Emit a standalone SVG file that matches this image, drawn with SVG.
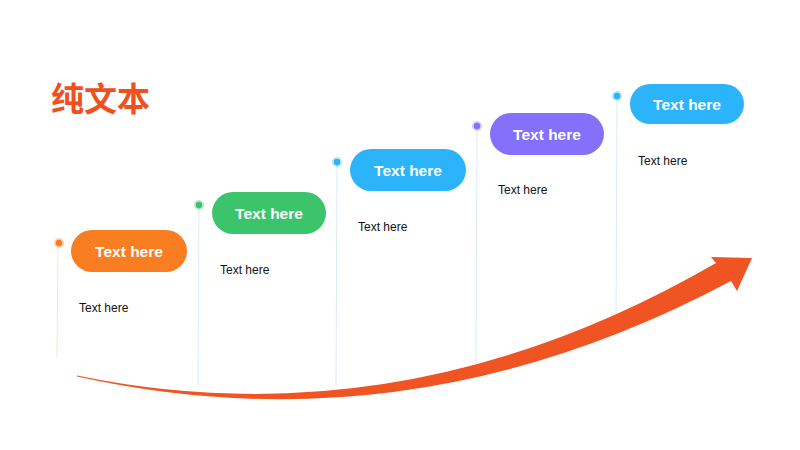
<svg xmlns="http://www.w3.org/2000/svg" width="800" height="450" viewBox="0 0 800 450">
<style>
.pill-t{font-family:"Liberation Sans",Arial,sans-serif;font-size:15.5px;font-weight:bold;fill:#fff;text-anchor:middle}
.sub{font-family:"Liberation Sans",Arial,sans-serif;font-size:12px;fill:#111}
.vl{stroke:#d8ebf7;stroke-width:1;fill:none}
</style>
<rect width="800" height="450" fill="#fff"/>
<text x="51" y="111" font-family="'Noto Sans CJK SC',sans-serif" font-size="33" font-weight="bold" fill="#F0501E">纯文本</text>
<g id="connectors">
<line class="vl" x1="58" y1="243" x2="57" y2="357" style="stroke:#fbe3d3"/>
<line class="vl" x1="199" y1="205" x2="198" y2="385"/>
<line class="vl" x1="337" y1="162" x2="336" y2="385"/>
<line class="vl" x1="477" y1="126" x2="476" y2="362"/>
<line class="vl" x1="617" y1="96" x2="616" y2="320"/>
<path id="arrow" d="M77,375.5 Q405,443 716,263 L711,257 L752,258 L737,291 L731,281 Q412,451 77,376.5 Z" fill="#F05423"/>
</g>
<g id="n1">
<circle cx="59" cy="243" r="5" fill="#F97E22" opacity="0.35"/><circle cx="59" cy="243" r="3.2" fill="#F97E22"/>
<rect x="71" y="230" width="116" height="42" rx="21" fill="#F97E22"/>
<text class="pill-t" x="129" y="257">Text here</text>
<text class="sub" x="79" y="312">Text here</text>
</g>
<g id="n2">
<circle cx="199" cy="205" r="5" fill="#3CC46C" opacity="0.35"/><circle cx="199" cy="205" r="3.2" fill="#3CC46C"/>
<rect x="212" y="192" width="114" height="42" rx="21" fill="#3CC46C"/>
<text class="pill-t" x="269" y="219">Text here</text>
<text class="sub" x="220" y="274">Text here</text>
</g>
<g id="n3">
<circle cx="337" cy="162" r="5" fill="#2CB4FA" opacity="0.35"/><circle cx="337" cy="162" r="3.2" fill="#2CB4FA"/>
<rect x="350" y="149" width="116" height="42" rx="21" fill="#2CB4FA"/>
<text class="pill-t" x="408" y="176">Text here</text>
<text class="sub" x="358" y="231">Text here</text>
</g>
<g id="n4">
<circle cx="477" cy="126" r="5" fill="#8470FA" opacity="0.35"/><circle cx="477" cy="126" r="3.2" fill="#8470FA"/>
<rect x="490" y="113" width="114" height="42" rx="21" fill="#8470FA"/>
<text class="pill-t" x="547" y="140">Text here</text>
<text class="sub" x="498" y="194">Text here</text>
</g>
<g id="n5">
<circle cx="617" cy="96" r="5" fill="#2CB4FA" opacity="0.35"/><circle cx="617" cy="96" r="3.2" fill="#2CB4FA"/>
<rect x="630" y="84" width="114" height="40" rx="20" fill="#2CB4FA"/>
<text class="pill-t" x="687" y="110">Text here</text>
<text class="sub" x="638" y="165">Text here</text>
</g>
</svg>
